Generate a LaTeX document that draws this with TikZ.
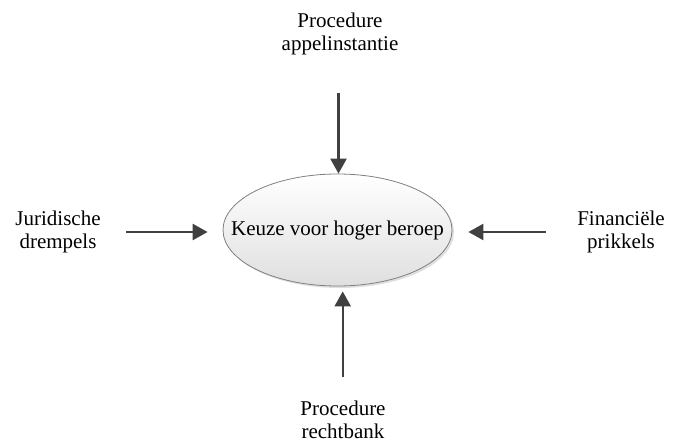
\documentclass[tikz,border=0pt]{standalone}
\usepackage{fontspec}
\setmainfont{Liberation Serif}
\usepackage{tikz}
\usetikzlibrary{shapes.geometric, arrows.meta, shadows}
\tikzstyle{arrow} = [line width=2.4pt, draw=black!75, -{Triangle[length=15pt,width=16pt]}]
\tikzstyle{factor} = [align=center, inner sep=0pt, font=\fontsize{21}{23}\selectfont]
\tikzset{keuzebol/.style={ellipse, draw=gray, line width=0.8pt,
    minimum width=229pt, minimum height=112pt, inner xsep=-26pt, inner ysep=0pt,
    top color=white, bottom color=gray!25,
    drop shadow={opacity=0.25, shadow xshift=2pt, shadow yshift=-2pt},
    font=\fontsize{21}{23}\selectfont}}

\begin{document}
\begin{tikzpicture}[x=1pt,y=-1pt]
\useasboundingbox (0,0) rectangle (675,444);

\node[keuzebol] (keuze) at (337.5,230) {Keuze voor hoger beroep};

% de vier factoren
\node[factor] (appel) at (340,34) {Procedure\\appelinstantie};
\node[factor] (juridisch) at (58,232) {Juridische\\drempels};
\node[factor] (financieel) at (621,232) {Financiële\\prikkels};
\node[factor] (rechtbank) at (343,420) {Procedure\\rechtbank};

\coordinate (vanappel) at (338.5,93);
\coordinate (vanjur) at (126,232);
\coordinate (vanfin) at (546,232);
\coordinate (vanrb) at (342.7,377);

\draw[arrow] (vanappel) -- (vanappel |- keuze.north);
\draw[arrow, shorten >=15pt] (vanjur) -- (keuze.west |- vanjur);
\draw[arrow, shorten >=16pt] (vanfin) -- (keuze.east |- vanfin);
\draw[arrow, shorten >=5pt] (vanrb) -- (vanrb |- keuze.south);
\end{tikzpicture}
\end{document}
